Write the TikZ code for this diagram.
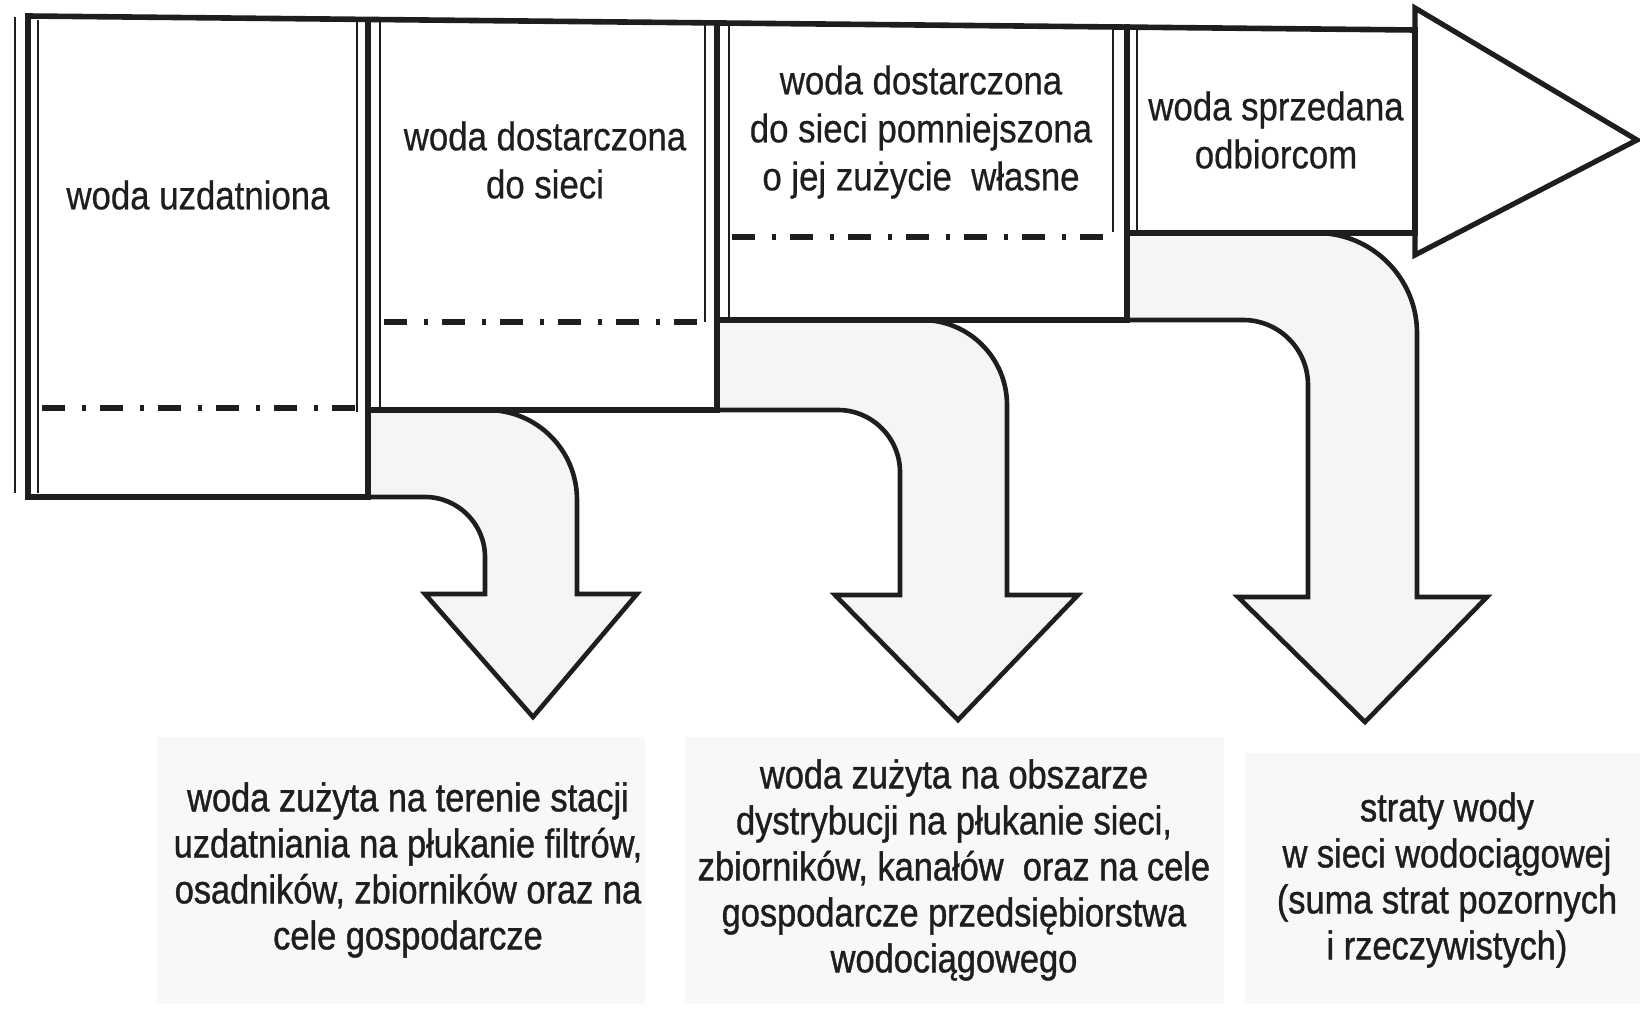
\documentclass[tikz,border=0pt]{standalone}
\usepackage{fontspec}
\setmainfont{Liberation Sans}[FakeStretch=0.87,FakeBold=0.5]
\newfontfamily\heavyfont{Liberation Sans}[FakeStretch=0.86,FakeBold=1.0]
\definecolor{ink}{HTML}{1E1E1E}
\definecolor{paper}{HTML}{F5F5F5}
\definecolor{patchgrey}{HTML}{F8F8F8}
\begin{document}
\begin{tikzpicture}[x=0.5pt,y=-0.5pt,
  thickline/.style={draw=ink,line width=2.8pt,line cap=rect},
  thinline/.style={draw=ink,line width=1.2pt},
  bentarrow/.style={draw=ink,fill=paper,line width=2.3pt,line join=miter},
  headshape/.style={draw=ink,fill=white,line width=2.6pt,line join=miter},
  dashdot/.style={draw=ink,line width=2.6pt,dash pattern=on 11.5pt off 8.5pt on 2pt off 7pt},
  patch/.style={fill=patchgrey,draw=none},
  txt/.style={font=\fontsize{20}{24}\selectfont,align=center,text=ink,inner sep=0pt},
  btxt/.style={font=\heavyfont\fontsize{20}{23}\selectfont,align=center,text=ink,inner sep=0pt}]
\useasboundingbox (0,0) rectangle (1640,1017);

% light scanned patches behind bottom texts
\path[patch] (157,737) rectangle (645,1004);
\path[patch] (685,737) rectangle (1224,1004);
\path[patch] (1245,753) rectangle (1640,1004);

% bent arrows
\path[bentarrow] (368,497) -- (425,497) .. controls (458,497) and (485,524) .. (485,557)
  -- (485,594) -- (425,594) -- (533,717) -- (637,594) -- (577,594) -- (577,500)
  .. controls (577,450) and (537,410) .. (487,410) -- (368,410) -- cycle;
\path[bentarrow] (717,410) -- (838,410) .. controls (872,410) and (900,438) .. (900,472)
  -- (900,595) -- (835,595) -- (958,720) -- (1078,595) -- (1007,595) -- (1007,405)
  .. controls (1007,358) and (969,320) .. (922,320) -- (717,320) -- cycle;
\path[bentarrow] (1127,320) -- (1243,320) .. controls (1279,320) and (1308,349) .. (1308,385)
  -- (1308,597) -- (1238,597) -- (1365,722) -- (1487,597) -- (1417,597) -- (1417,333)
  .. controls (1417,278) and (1372,233) .. (1317,233) -- (1127,233) -- cycle;

% big arrow head
\path[headshape] (1415,8) -- (1637,140) -- (1415,255) -- cycle;

% main outline
\path[thickline] (28,16) -- (1415,30);
\path[thickline] (28,16) -- (28,497) -- (368,497);
\path[thinline] (15,17) -- (15,493);
\path[thinline] (38,20) -- (38,493);

% separator 1
\path[thickline] (368,19.4) -- (368,497);
\path[thinline] (357,19.3) -- (357,412);
\path[thinline] (380,19.6) -- (380,407);
\path[thickline] (368,410) -- (717,410);

% separator 2
\path[thickline] (717,23) -- (717,410);
\path[thinline] (705,22.8) -- (705,322);
\path[thinline] (729,23.1) -- (729,318);
\path[thickline] (717,320) -- (1127,320);

% separator 3
\path[thickline] (1127,27.1) -- (1127,320);
\path[thinline] (1113,27) -- (1113,232);
\path[thinline] (1137,27.2) -- (1137,233);
\path[thickline] (1127,233) -- (1415,233);
\path[thickline] (1415,30) -- (1415,233);

% dash-dot levels
\path[dashdot] (42,408) -- (357,408);
\path[dashdot] (384,322) -- (705,322);
\path[dashdot] (732,237) -- (1113,237);

% texts in boxes
\node[txt] (t1) at (198,195) {woda uzdatniona};
\node[txt] (t2) at (545,160) {woda dostarczona\\do sieci};
\node[txt] (t3) at (921,132) {woda dostarczona\\do sieci pomniejszona\\o jej zużycie\ \ własne};
\node[txt] (t4) at (1276,130) {woda sprzedana\\odbiorcom};

% texts below
\node[btxt] (b1) at (408,870) {woda zużyta na terenie stacji\\uzdatniania na płukanie filtrów,\\osadników, zbiorników oraz na\\cele gospodarcze};
\node[btxt] (b2) at (954,870) {woda zużyta na obszarze\\dystrybucji na płukanie sieci,\\zbiorników, kanałów\ \ oraz na cele\\gospodarcze przedsiębiorstwa\\wodociągowego};
\node[btxt] (b3) at (1447,880) {straty wody\\w sieci wodociągowej\\(suma strat pozornych\\i rzeczywistych)};
\end{tikzpicture}
\end{document}
